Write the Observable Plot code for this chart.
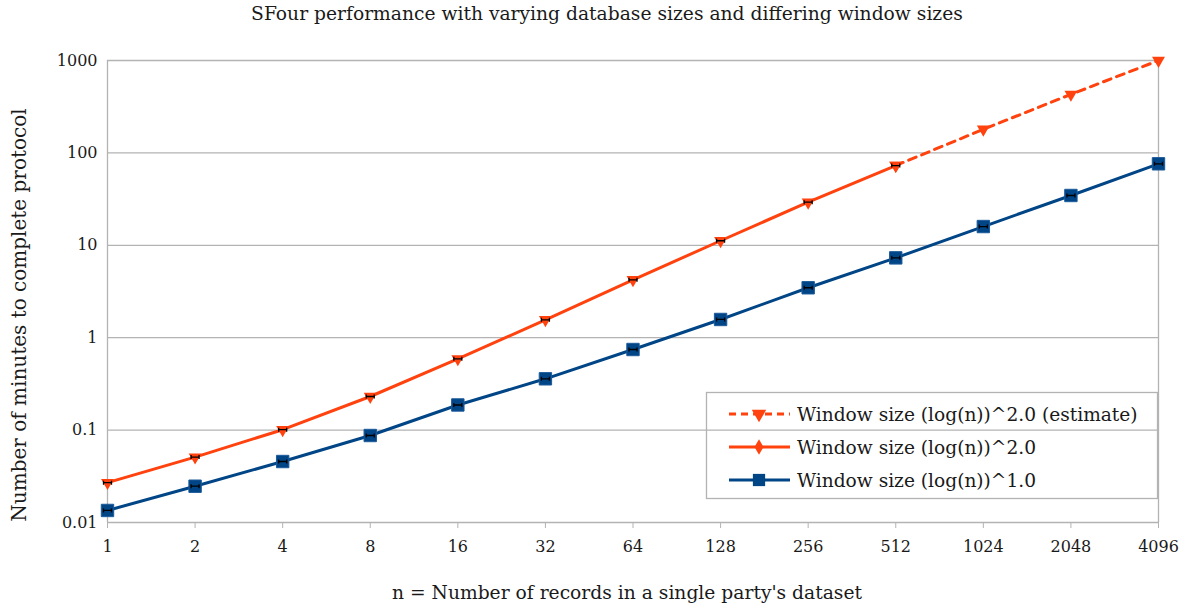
<!DOCTYPE html>
<html><head><meta charset="utf-8">
<script src="https://cdn.jsdelivr.net/npm/d3@7"></script>
<script src="https://cdn.jsdelivr.net/npm/@observablehq/plot@0.6"></script>
<style>body{margin:0;background:#fff} svg text{font-family:"DejaVu Serif","Liberation Serif",serif !important}</style>
</head><body><div id="chart"></div>
<script>
const nValues = [1, 2, 4, 8, 16, 32, 64, 128, 256, 512, 1024, 2048, 4096];
const squaredN = [1, 2, 4, 8, 16, 32, 64, 128, 256, 512];
const squaredMinutes = [0.027, 0.051, 0.101, 0.231, 0.59, 1.56, 4.23, 11.2, 29.3, 73];
const estimateN = [512, 1024, 2048, 4096];
const estimateMinutes = [73, 180, 430, 1000];
const linearMinutes = [0.0135, 0.0247, 0.0457, 0.0874, 0.187, 0.359, 0.745, 1.575, 3.47, 7.31, 15.96, 34.6, 76.2];
const yTicks = [0.01, 0.1, 1, 10, 100, 1000];
const yTickLabels = ["0.01", "0.1", "1", "10", "100", "1000"];
const seriesNames = ["Window size (log(n))^2.0 (estimate)", "Window size (log(n))^2.0", "Window size (log(n))^1.0"];
const titleText = "SFour performance with varying database sizes and differing window sizes";
const xLabel = "n = Number of records in a single party's dataset";
const yLabel = "Number of minutes to complete protocol";

const ORANGE = "#ff420e", BLUE = "#004586", GRID = "#b3b3b3";
const squared = squaredN.map((n, i) => ({n, v: squaredMinutes[i]}));
const estimate = estimateN.map((n, i) => ({n, v: estimateMinutes[i]}));
const linear = nValues.map((n, i) => ({n, v: linearMinutes[i]}));

const errBar = {draw(ctx) {
  const w = 4;
  ctx.moveTo(-w, 0); ctx.lineTo(w, 0);
  ctx.moveTo(-w, -2); ctx.lineTo(-w, 2);
  ctx.moveTo(w, -2); ctx.lineTo(w, 2);
}};

const FONT = "'DejaVu Serif','Liberation Serif',serif";
const W = 1185, H = 607, ML = 107, MR = 27, MT = 60, MB = 85;
const chart = Plot.plot({
  width: W, height: H, marginLeft: ML, marginRight: MR, marginTop: MT, marginBottom: MB,
  style: {fontFamily: FONT, fontSize: "16px", background: "#fff", color: "#1a1a1a"},
  x: {type: "log", base: 2, domain: [1, 4096]},
  y: {type: "log", domain: [0.01, 1000]},
  marks: [
    Plot.gridY(yTicks, {stroke: GRID, strokeOpacity: 1, strokeWidth: 1.3}),
    Plot.ruleX([1, 4096], {stroke: GRID, strokeWidth: 1.3}),
    Plot.axisY({ticks: yTicks, tickFormat: d => yTickLabels[yTicks.indexOf(d)], tickSize: 0, tickPadding: 10, label: null, fontSize: 16}),
    Plot.axisX({ticks: nValues, tickFormat: d => String(d), tickSize: 6, stroke: GRID, tickPadding: 12, label: null, fontSize: 16}),
    Plot.line(linear, {x: "n", y: "v", stroke: BLUE, strokeWidth: 3}),
    Plot.line(squared, {x: "n", y: "v", stroke: ORANGE, strokeWidth: 3}),
    Plot.line(estimate, {x: "n", y: "v", stroke: ORANGE, strokeWidth: 3, strokeDasharray: "8,6"}),
    Plot.dot(linear, {x: "n", y: "v", symbol: "square", r: 7, fill: BLUE, stroke: "#1c5a9a", strokeWidth: 1}),
    Plot.dot(squared, {x: "n", y: "v", symbol: "triangle", r: 4.8, rotate: 180, fill: ORANGE, stroke: "none"}),
    Plot.dot(estimate, {x: "n", y: "v", symbol: "triangle", r: 4.8, rotate: 180, fill: ORANGE, stroke: "none"}),
    Plot.dot(linear, {x: "n", y: "v", symbol: errBar, r: 4, stroke: "#000", strokeWidth: 1.3, fill: "none"}),
    Plot.dot(squared, {x: "n", y: "v", symbol: errBar, r: 4, stroke: "#000", strokeWidth: 1.3, fill: "none"})
  ]
});

const svg = d3.select(chart);
svg.append("text").attr("x", 607).attr("y", 20).attr("text-anchor", "middle").attr("font-family", FONT)
  .attr("font-size", 18.7).attr("fill", "#1a1a1a").text(titleText);
svg.append("text").attr("x", 627).attr("y", 599).attr("text-anchor", "middle").attr("font-family", FONT)
  .attr("font-size", 18.7).attr("fill", "#1a1a1a").text(xLabel);
svg.append("text").attr("transform", "translate(26,315) rotate(-90)").attr("text-anchor", "middle").attr("font-family", FONT)
  .attr("font-size", 20).attr("fill", "#1a1a1a").text(yLabel);

// legend
const lg = svg.append("g");
lg.append("rect").attr("x", 706.5).attr("y", 392.5).attr("width", 451).attr("height", 106)
  .attr("fill", "none").attr("stroke", GRID).attr("stroke-width", 1.3);
const rows = [
  {y: 414, color: ORANGE, dash: "7,5", sym: d3.symbolTriangle, size: 90, rot: 180},
  {y: 447, color: ORANGE, dash: null, sym: d3.symbolDiamond, size: 70, rot: 0},
  {y: 480, color: BLUE, dash: null, sym: d3.symbolSquare, size: 150, rot: 0}
];
rows.forEach((r, i) => {
  lg.append("line").attr("x1", 729).attr("x2", 790).attr("y1", r.y).attr("y2", r.y)
    .attr("stroke", r.color).attr("stroke-width", 3).attr("stroke-dasharray", r.dash);
  lg.append("path").attr("d", d3.symbol(r.sym, r.size)())
    .attr("transform", `translate(759,${r.y}) rotate(${r.rot})`).attr("fill", r.color);
  lg.append("text").attr("x", 797).attr("y", r.y).attr("dy", "0.35em").attr("text-anchor", "start")
    .attr("font-family", FONT).attr("font-size", 18.6).attr("fill", "#1a1a1a").text(seriesNames[i]);
});

document.getElementById("chart").appendChild(chart);
</script>
</body></html>
